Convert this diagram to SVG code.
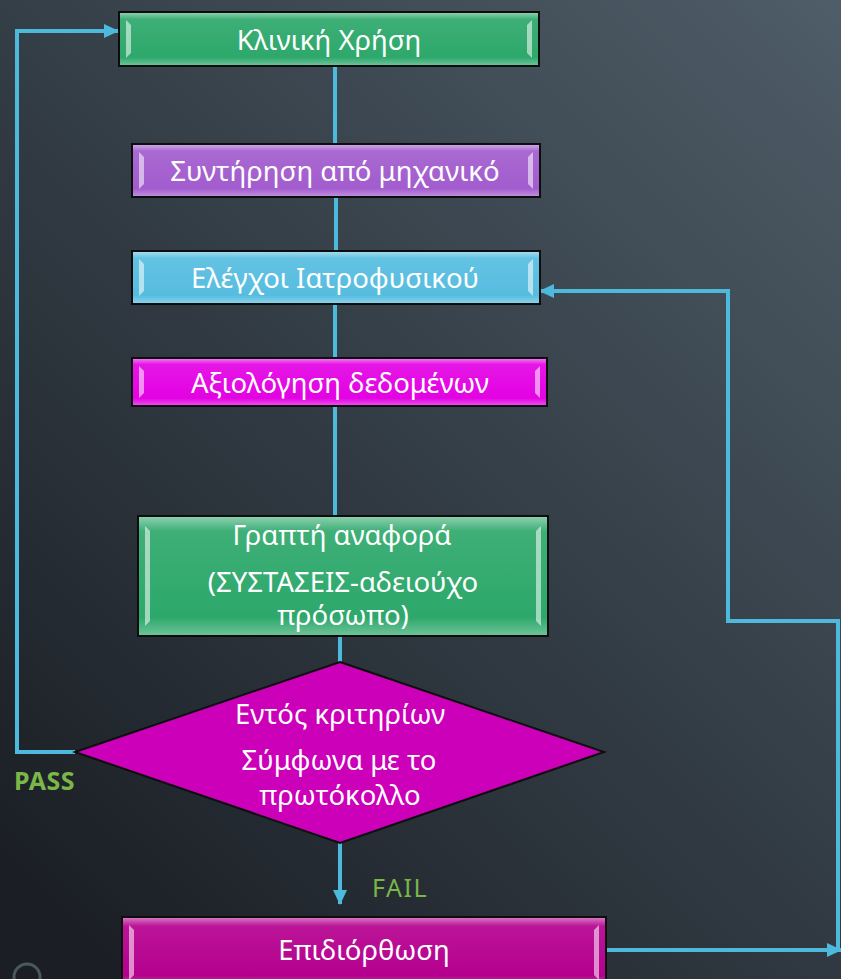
<svg xmlns="http://www.w3.org/2000/svg" width="841" height="979" viewBox="0 0 841 979">
<defs>
<linearGradient id="bg" x1="1" y1="0" x2="0.15" y2="1">
<stop offset="0" stop-color="#4f5d68"/>
<stop offset="0.5" stop-color="#343e47"/>
<stop offset="1" stop-color="#1b1f25"/>
</linearGradient>
<linearGradient id="gloss" x1="0" y1="0" x2="0" y2="1">
<stop offset="0" stop-color="#ffffff" stop-opacity="0.45"/>
<stop offset="0.12" stop-color="#ffffff" stop-opacity="0.08"/>
<stop offset="0.85" stop-color="#ffffff" stop-opacity="0"/>
<stop offset="1" stop-color="#ffffff" stop-opacity="0.3"/>
</linearGradient>
<marker id="arr" markerUnits="userSpaceOnUse" markerWidth="16" markerHeight="16" viewBox="0 0 16 16" refX="14" refY="8" orient="auto">
<path d="M0,1 L15,8 L0,15 Z" fill="#4cb9dd"/>
</marker>
<style>
.box{stroke:#0d0d0d;stroke-width:2}
.gl{fill:url(#gloss)}
.hl{fill:#ffffff;fill-opacity:0.55}
.t{font-family:"Noto Sans","Open Sans","DejaVu Sans",sans-serif;font-size:27.5px;fill:#ffffff;text-anchor:middle}
.c{fill:none;stroke:#4cb9dd;stroke-width:4}
.lbl{font-family:"Noto Sans","DejaVu Sans",sans-serif;fill:#7ab648}
</style>
</defs>
<rect width="841" height="979" fill="url(#bg)"/>
<circle cx="27" cy="977" r="13" fill="none" stroke="#4a5960" stroke-width="3"/>

<g id="connectors">
<path class="c" d="M335,66 V144"/>
<path class="c" d="M336,197 V251"/>
<path class="c" d="M335,304 V358"/>
<path class="c" d="M335,406 V516"/>
<path class="c" d="M340,636 V662"/>
<path class="c" d="M340,843 V904" marker-end="url(#arr)"/>
<path class="c" d="M75,752 H17 V31 H118" marker-end="url(#arr)"/>
<path class="c" d="M606,950 H841" marker-end="url(#arr)"/>
<path class="c" d="M838,950 V621 H728 V291 H540" marker-end="url(#arr)"/>
<text class="lbl" x="14" y="790" font-size="25" font-weight="bold" letter-spacing="0.5">PASS</text>
<text class="lbl" x="372" y="897" font-size="25" letter-spacing="1.5">FAIL</text>
</g>

<g id="n1">
<rect class="box" x="119" y="12" width="420" height="54" fill="#2da86b"/>
<rect class="gl" x="120" y="13" width="418" height="52"/>
<path class="hl" d="M126,20 L131,25 L131,53 L126,58 Z"/>
<path class="hl" d="M532,20 L527,25 L527,53 L532,58 Z"/>
<text class="t" x="329" y="50">Κλινική Χρήση</text>
</g>

<g id="n2">
<rect class="box" x="132" y="144" width="408" height="53" fill="#a25cce"/>
<rect class="gl" x="133" y="145" width="406" height="51"/>
<path class="hl" d="M139,152 L144,157 L144,184 L139,189 Z"/>
<path class="hl" d="M533,152 L528,157 L528,184 L533,189 Z"/>
<text class="t" x="335" y="181">Συντήρηση από μηχανικό</text>
</g>

<g id="n3">
<rect class="box" x="132" y="251" width="408" height="53" fill="#56bde0"/>
<rect class="gl" x="133" y="252" width="406" height="51"/>
<path class="hl" d="M139,259 L144,264 L144,291 L139,296 Z"/>
<path class="hl" d="M533,259 L528,264 L528,291 L533,296 Z"/>
<text class="t" x="335" y="288">Ελέγχοι Ιατροφυσικού</text>
</g>

<g id="n4">
<rect class="box" x="132" y="358" width="415" height="48" fill="#e302e3"/>
<rect class="gl" x="133" y="359" width="413" height="46"/>
<path class="hl" d="M139,366 L144,371 L144,393 L139,398 Z"/>
<path class="hl" d="M540,366 L535,371 L535,393 L540,398 Z"/>
<text class="t" x="340" y="393">Αξιολόγηση δεδομένων</text>
</g>

<g id="n5">
<rect class="box" x="138" y="516" width="410" height="120" fill="#2da86b"/>
<rect class="gl" x="139" y="517" width="408" height="118"/>
<path class="hl" d="M145,526 L150,531 L150,621 L145,626 Z"/>
<path class="hl" d="M541,526 L536,531 L536,621 L541,626 Z"/>
<text class="t" x="342" y="545">Γραπτή αναφορά</text>
<text class="t"><tspan x="343" y="592">(ΣΥΣΤΑΣΕΙΣ-αδειούχο</tspan><tspan x="343" y="625">πρόσωπο)</tspan></text>
</g>

<g id="n6">
<polygon points="340,662 604,752 340,843 75,752" fill="#cb00b8" stroke="#0d0d0d" stroke-width="2"/>
<text class="t" x="340" y="724">Εντός κριτηρίων</text>
<text class="t"><tspan x="339" y="770">Σύμφωνα με το</tspan><tspan x="340" y="805">πρωτόκολλο</tspan></text>
</g>

<g id="n7">
<rect class="box" x="122" y="917" width="484" height="70" fill="#b5008f"/>
<rect class="gl" x="123" y="918" width="482" height="68"/>
<path class="hl" d="M129,925 L134,930 L134,975 L129,980 Z"/>
<path class="hl" d="M599,925 L594,930 L594,975 L599,980 Z"/>
<text class="t" x="364" y="960">Επιδιόρθωση</text>
</g>
</svg>
